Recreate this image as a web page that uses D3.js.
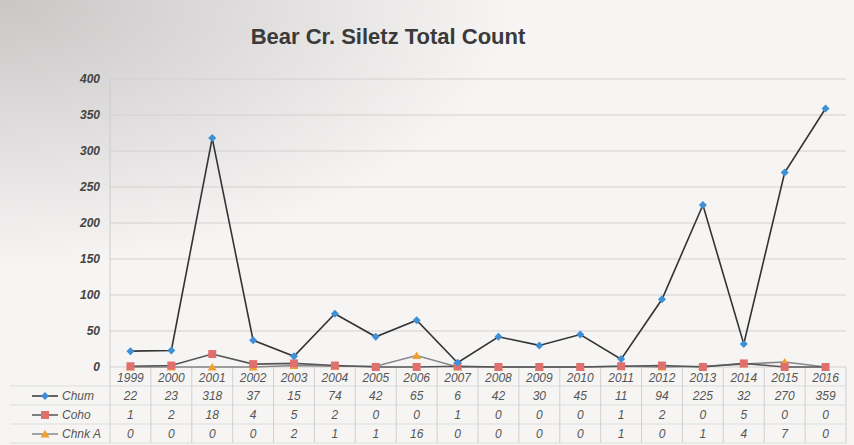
<html>
<head>
<style>
  body { margin: 0; background: #f4f3f2; }
  svg { display: block; }
  .title { font-family: "Liberation Sans", Arial, sans-serif; font-weight: bold; font-size: 22px; fill: #3a3a3a; }
  .ytick text { font-family: "Liberation Sans", Arial, sans-serif; font-style: italic; font-weight: bold; font-size: 12px; fill: #444; }
  .tbl { font-family: "Liberation Sans", Arial, sans-serif; font-style: italic; font-size: 12px; fill: #555; }
</style>
<script src="https://d3js.org/d3.v7.min.js"></script>
</head>
<body>
<svg width="854" height="445"></svg>
<script>
const years = [1999,2000,2001,2002,2003,2004,2005,2006,2007,2008,2009,2010,2011,2012,2013,2014,2015,2016];
const chum  = [22,23,318,37,15,74,42,65,6,42,30,45,11,94,225,32,270,359];
const coho  = [1,2,18,4,5,2,0,0,1,0,0,0,1,2,0,5,0,0];
const chnkA = [0,0,0,0,2,1,1,16,0,0,0,0,1,0,1,4,7,0];
const yTicks = [0,50,100,150,200,250,300,350,400];

const series = [
  { name: "Chum",   values: chum,  line: "#333", marker: "diamond",  color: "#3d8fd6" },
  { name: "Coho",   values: coho,  line: "#555", marker: "square",   color: "#e0706e" },
  { name: "Chnk A", values: chnkA, line: "#888", marker: "triangle", color: "#f0a030" }
];

const svg = d3.select("svg");

// photo-like background shading
const defs = svg.append("defs");
const grad = defs.append("radialGradient").attr("id", "bg").attr("cx", "0%").attr("cy", "0%").attr("r", "60%");
grad.append("stop").attr("offset", "0%").attr("stop-color", "#c9c6c6");
grad.append("stop").attr("offset", "100%").attr("stop-color", "#f6f5f4");
svg.append("rect").attr("width", 854).attr("height", 445).attr("fill", "url(#bg)");

const plotL = 110, plotR = 846, plotT = 79, plotB = 367;

const x = d3.scaleBand().domain(years).range([plotL, plotR]);
const y = d3.scaleLinear().domain([0, 400]).range([plotB, plotT]);

svg.append("text").attr("class", "title")
  .attr("x", 388).attr("y", 44).attr("text-anchor", "middle")
  .text("Bear Cr. Siletz Total Count");

// gridlines
svg.append("g").selectAll("line").data(yTicks).join("line")
  .attr("x1", plotL).attr("x2", plotR)
  .attr("y1", d => y(d)).attr("y2", d => y(d))
  .attr("stroke", "#d4d0d0").attr("stroke-width", 1);

svg.append("line").attr("x1", plotL).attr("x2", plotL).attr("y1", plotT).attr("y2", plotB)
  .attr("stroke", "#ccc");

svg.append("g").attr("class", "ytick")
  .attr("transform", "translate(" + plotL + ",0)")
  .call(d3.axisLeft(y).tickValues(yTicks).tickSize(0).tickPadding(10))
  .call(g => g.select(".domain").remove());

// data table
const rowY = [377, 396, 415, 434];
const tbl = svg.append("g");
const rowEdges = [367, 386, 405, 424, 443];
tbl.selectAll("line.h").data(rowEdges.slice(1)).join("line")
  .attr("x1", 10).attr("x2", plotR)
  .attr("y1", d => d).attr("y2", d => d)
  .attr("stroke", "#ddd");
tbl.selectAll("line.v").data(years.map(d => x(d)).concat([plotR])).join("line")
  .attr("x1", d => d).attr("x2", d => d)
  .attr("y1", 367).attr("y2", 443)
  .attr("stroke", "#d0d0d0");

tbl.selectAll("text.yr").data(years).join("text")
  .attr("class", "tbl")
  .attr("x", d => x(d) + x.bandwidth() / 2).attr("y", rowY[0] + 5)
  .attr("text-anchor", "middle").attr("font-size", 13).attr("fill", "#444")
  .text(d => d);

function drawMarker(g, s, cx, cy) {
  if (s.marker === "diamond") {
    g.append("path").attr("d", `M${cx},${cy-4}L${cx+4},${cy}L${cx},${cy+4}L${cx-4},${cy}Z`).attr("fill", s.color);
  } else if (s.marker === "square") {
    g.append("rect").attr("x", cx - 4).attr("y", cy - 4).attr("width", 8).attr("height", 8).attr("fill", s.color);
  } else {
    g.append("path").attr("d", `M${cx},${cy-4}L${cx+4.5},${cy+3.5}L${cx-4.5},${cy+3.5}Z`).attr("fill", s.color);
  }
}

series.forEach((s, i) => {
  const ry = rowY[i + 1];
  tbl.selectAll("text.v" + i).data(s.values).join("text")
    .attr("class", "tbl")
    .attr("x", (d, j) => x(years[j]) + x.bandwidth() / 2).attr("y", ry + 4)
    .attr("text-anchor", "middle")
    .text(d => d);
  tbl.append("line").attr("x1", 32).attr("x2", 58).attr("y1", ry).attr("y2", ry)
    .attr("stroke", s.line).attr("stroke-width", 1.5);
  drawMarker(tbl, s, 45, ry);
  tbl.append("text").attr("class", "tbl").attr("x", 62).attr("y", ry + 4)
    .attr("font-size", 13).text(s.name);
});

// lines, drawn back to front
const line = d3.line()
  .x((d, i) => x(years[i]) + x.bandwidth() / 2)
  .y(d => y(d));

series.slice().reverse().forEach(s => {
  svg.append("path").attr("d", line(s.values))
    .attr("fill", "none").attr("stroke", s.line).attr("stroke-width", 1.6);
  const mg = svg.append("g");
  s.values.forEach((v, i) => drawMarker(mg, s, x(years[i]) + x.bandwidth() / 2, y(v)));
});
</script>
</body>
</html>
